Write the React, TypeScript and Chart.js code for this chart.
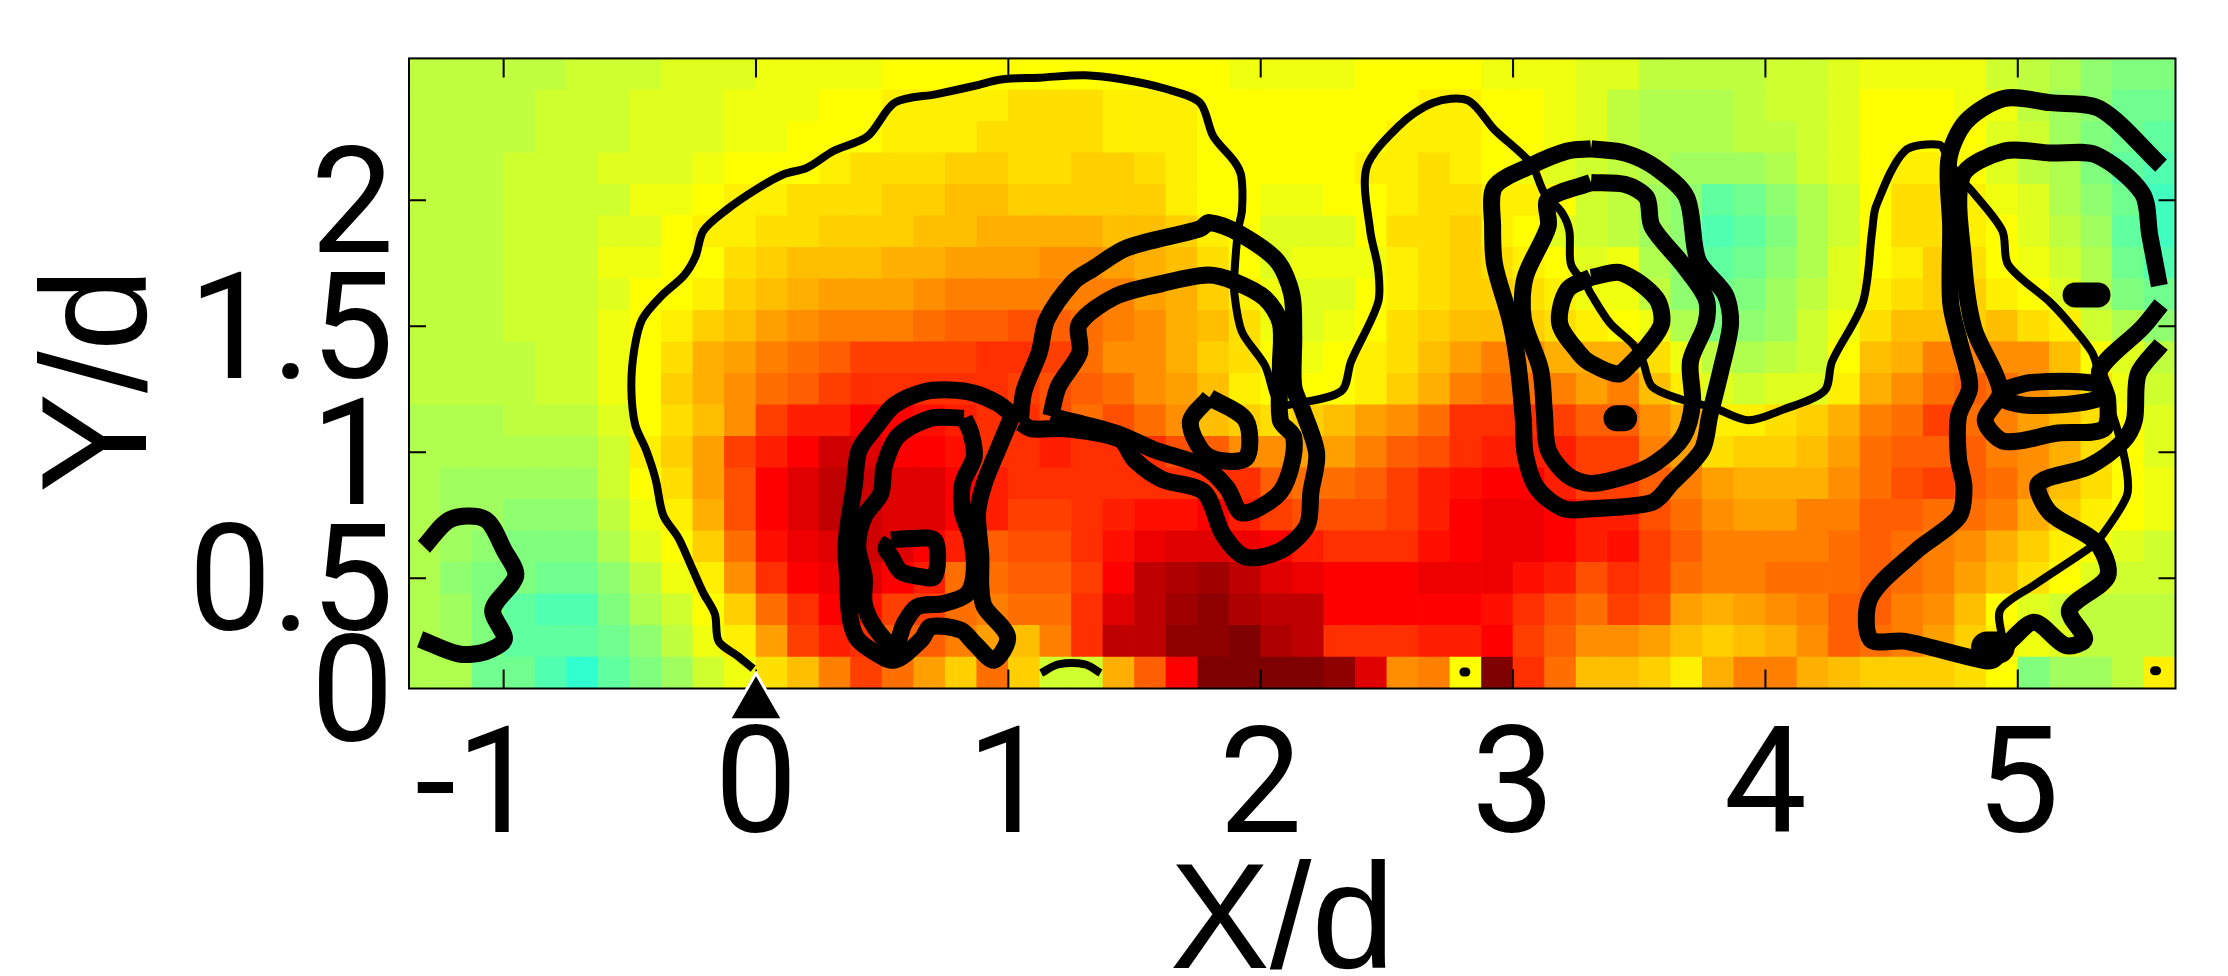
import React, { useEffect, useRef } from "react";
import { Chart, registerables } from "chart.js";

Chart.register(...registerables);

// Axis limits and ticks (in d units)
const xLimits = [-1.375, 5.625];
const yLimits = [0.0625, 2.5625];
const xTicks = [-1, 0, 1, 2, 3, 4, 5];
const xTickLabels = ["-1", "0", "1", "2", "3", "4", "5"];
const yTicks = [0.0625, 0.5, 1, 1.5, 2];
const yTickLabels = ["0", "0.5", "1", "1.5", "2"];
const xTitle = "X/d";
const yTitle = "Y/d";

// Cell grid
const cellSize = 0.125;
const firstCellX = -1.3125;
const topCellY = 2.5;

// Colour index read for each cell (top row first); 40 = yellow, 48 = orange, 56 = red, 64 = dark red
const cellValues: number[][] = [
  [36,36,36,36,36,37,37,37,38,38,38,39,39,39,39,40,40,40,40, 40,40,40,40,40,40,40,39,39,39,39,40,40,40,40,39,39,39,38, 38,36,36,36,36,37,37,38,39,39,39,39,37,36,35,33,32,32],
  [36,36,36,36,37,37,37,38,38,38,39,39,39,40,40,41,41,41,41, 42,42,42,41,41,41,40,40,40,40,40,40,40,41,41,40,40,39,38, 36,35,35,35,36,37,37,38,40,40,40,39,39,36,34,33,31,31],
  [36,36,36,36,37,37,37,38,38,38,39,39,40,40,40,41,41,41,42, 42,42,42,41,41,41,40,40,40,40,40,40,41,41,41,40,40,39,38, 36,35,35,35,36,36,37,38,40,40,40,40,38,37,34,32,31,30],
  [36,36,36,37,37,37,38,38,38,39,40,40,40,41,42,42,42,43,43, 42,42,43,43,42,41,40,40,40,40,40,41,41,42,41,40,39,38,37, 36,35,34,34,34,35,37,38,40,41,41,40,38,36,35,32,30,29],
  [36,36,36,37,37,37,37,39,39,40,41,41,42,42,42,43,43,44,44, 43,43,43,43,43,41,40,40,39,39,40,40,41,42,42,41,41,40,37, 36,34,33,30,31,33,35,37,40,42,42,41,39,38,35,33,31,28],
  [36,36,36,37,37,37,38,38,40,41,41,42,42,43,43,43,44,44,45, 45,45,45,44,44,43,41,40,38,38,38,40,42,42,43,41,40,38,37, 36,34,33,29,30,32,35,37,40,42,42,41,40,38,36,34,30,28],
  [36,36,36,37,37,37,39,39,40,40,42,43,44,44,44,45,45,46,46, 46,47,47,46,45,44,42,40,38,39,39,39,41,42,43,42,41,40,38, 39,35,33,30,31,33,35,38,40,41,43,42,40,39,37,35,31,29],
  [36,36,36,37,37,37,38,40,40,41,43,44,45,46,46,46,47,48,48, 48,48,48,48,46,45,43,41,39,38,38,40,41,42,43,43,42,41,39, 39,36,33,31,32,34,36,38,41,42,43,43,41,40,38,35,32,31],
  [36,36,36,37,37,37,39,40,41,43,44,46,47,48,48,48,49,50,50, 51,50,49,48,47,45,44,42,39,38,39,40,42,43,44,44,43,42,41, 40,39,35,32,33,34,37,39,42,44,44,43,44,42,41,37,35,33],
  [36,36,36,36,37,37,39,40,42,45,46,48,49,50,52,52,52,52,53, 53,52,49,47,47,45,43,42,40,39,40,41,42,44,46,48,47,45,45, 45,42,39,36,35,36,37,40,44,45,48,48,47,47,44,40,38,36],
  [36,36,36,36,37,37,39,40,43,45,47,49,50,52,53,53,53,53,53, 52,51,50,49,47,46,44,41,40,40,40,41,43,45,48,49,49,48,46, 48,44,41,38,37,38,38,41,45,47,49,50,49,47,45,42,39,37],
  [35,35,35,36,36,36,38,40,42,44,47,52,54,54,56,56,55,54,53, 53,51,49,51,49,47,44,43,42,43,44,46,47,49,53,53,53,52,50, 50,47,45,41,41,42,43,45,48,49,52,49,48,46,44,42,40,38],
  [35,35,35,35,35,35,37,41,43,46,52,54,56,59,58,56,56,55,53, 53,54,53,53,53,51,50,47,47,46,46,48,50,51,53,54,54,54,52, 52,48,46,42,43,43,44,46,49,50,50,50,48,47,45,42,40,38],
  [35,34,34,34,34,34,37,40,42,46,51,56,58,60,59,58,58,56,54, 53,53,53,53,53,53,53,53,50,49,49,50,52,54,55,56,56,54,52, 52,50,48,46,45,45,45,47,49,51,52,50,49,47,44,42,40,39],
  [35,34,34,33,33,33,36,39,41,45,51,56,58,60,59,58,58,56,54, 52,52,53,54,55,55,56,54,52,51,51,51,52,54,56,57,57,56,54, 54,51,49,47,46,46,48,48,50,50,49,49,48,45,43,41,40,39],
  [35,34,33,32,32,32,35,38,40,43,49,55,57,58,59,58,56,54,50, 51,51,53,55,57,58,58,57,56,54,53,53,53,55,56,57,57,56,54, 55,52,50,48,48,48,48,49,50,49,48,47,45,43,41,40,38,37],
  [35,33,32,32,31,31,33,36,39,41,47,53,56,57,58,56,54,49,49, 50,50,52,56,60,61,62,60,58,57,56,56,56,57,57,57,55,54,51, 53,52,49,48,48,49,49,49,50,49,48,46,44,42,40,38,37,37],
  [35,34,32,30,29,29,32,35,37,40,43,49,53,56,55,52,52,49,48, 49,49,53,58,60,62,63,61,60,60,56,56,56,56,56,55,53,51,49, 52,51,46,45,46,47,48,50,50,48,47,44,40,38,37,36,36,36],
  [35,34,32,30,30,30,31,33,36,39,41,46,52,54,53,50,50,48,46, 44,48,53,60,60,63,63,64,61,60,53,53,53,54,54,56,52,50,47, 47,46,44,43,44,45,47,50,49,48,46,43,41,39,38,36,36,36],
  [35,35,31,31,29,27,30,32,34,37,39,42,44,48,52,49,46,43,49, 43,37,37,45,50,56,64,64,64,64,63,58,47,48,40,64,53,49,44, 44,43,41,45,48,48,45,44,43,43,43,42,40,32,34,34,36,41],
];

type P = [number, number];

// Contour lines, in X/d, Y/d
const outerEnvelope: P[] = [[-0.011,0.141],[-0.072,0.191],[-0.148,0.25],[-0.163,0.358],[-0.209,0.442],[-0.254,0.542],[-0.307,0.659],[-0.368,0.751],[-0.398,0.893],[-0.436,1.01],[-0.479,1.11],[-0.494,1.26],[-0.482,1.41],[-0.451,1.527],[-0.376,1.619],[-0.284,1.703],[-0.239,1.778],[-0.209,1.878],[-0.118,1.961],[0.004,2.045],[0.11,2.103],[0.201,2.128],[0.307,2.195],[0.443,2.254],[0.55,2.387],[0.716,2.421],[0.868,2.454],[0.971,2.479],[1.122,2.486],[1.304,2.496],[1.456,2.479],[1.623,2.442],[1.759,2.387],[1.812,2.254],[1.896,2.153],[1.923,2.095],[1.926,1.961],[1.911,1.886],[1.896,1.711],[1.896,1.627],[1.926,1.477],[2.017,1.344],[2.07,1.193],[2.138,1.193],[2.32,1.243],[2.358,1.36],[2.465,1.594],[2.465,1.728],[2.434,1.878],[2.419,2.128],[2.548,2.295],[2.684,2.387],[2.821,2.396],[2.927,2.279],[3.071,2.145],[3.124,2.028],[3.192,1.953],[3.223,1.878],[3.23,1.744],[3.291,1.661],[3.309,1.627],[3.385,1.511],[3.476,1.427],[3.514,1.36],[3.551,1.26],[3.665,1.21],[3.794,1.177],[3.931,1.127],[4.067,1.168],[4.234,1.243],[4.264,1.36],[4.386,1.594],[4.423,1.878],[4.439,1.978],[4.552,2.195],[4.689,2.22],[4.719,2.178],[4.765,2.095],[4.825,2.028],[4.939,1.878],[4.962,1.744],[5.129,1.594],[5.205,1.511],[5.295,1.394],[5.326,1.294],[5.394,1.093],[5.432,0.926],[5.432,0.826],[5.326,0.659],[5.28,0.617],[5.068,0.475],[4.931,0.375],[4.939,0.258]];
const leftCurl: P[] = [[-1.316,0.625],[-1.21,0.734],[-1.073,0.734],[-0.997,0.609],[-0.952,0.509],[-1.043,0.375],[-0.997,0.258],[-1.073,0.208],[-1.179,0.2],[-1.331,0.258]];
const vortexOneOuter: P[] = [[1.017,1.148],[0.958,1.009],[0.905,0.877],[0.878,0.758],[0.891,0.586],[0.891,0.466],[0.905,0.387],[0.997,0.268],[0.944,0.175],[0.865,0.242],[0.812,0.294],[0.693,0.308],[0.654,0.255],[0.548,0.175],[0.456,0.215],[0.396,0.268],[0.37,0.361],[0.363,0.506],[0.356,0.625],[0.37,0.744],[0.389,0.863],[0.409,1.009],[0.475,1.101],[0.548,1.187],[0.667,1.24],[0.773,1.247],[0.865,1.234],[0.958,1.194],[1.017,1.148]];
const vortexOneInner: P[] = [[0.825,1.135],[0.693,1.135],[0.561,1.062],[0.508,0.943],[0.495,0.837],[0.429,0.744],[0.403,0.625],[0.429,0.506],[0.429,0.4],[0.469,0.308],[0.548,0.228],[0.588,0.321],[0.64,0.387],[0.746,0.4],[0.839,0.44],[0.865,0.533],[0.852,0.665],[0.819,0.758],[0.819,0.877],[0.865,0.982],[0.852,1.075],[0.825,1.135]];
const vortexOneCore: P[] = [[0.535,0.652],[0.614,0.658],[0.706,0.652],[0.72,0.586],[0.706,0.506],[0.654,0.506],[0.574,0.526],[0.535,0.586],[0.515,0.619],[0.535,0.652]];
const vortexTwoOuter: P[] = [[1.047,1.118],[1.062,1.243],[1.122,1.394],[1.153,1.527],[1.259,1.677],[1.335,1.728],[1.471,1.811],[1.759,1.886],[1.797,1.911],[1.911,1.87],[2.063,1.761],[2.123,1.627],[2.131,1.46],[2.131,1.26],[2.169,1.16],[2.222,0.993],[2.199,0.842],[2.184,0.709],[2.078,0.609],[1.941,0.584],[1.85,0.675],[1.775,0.842],[1.608,0.893],[1.502,0.968],[1.441,1.051],[1.229,1.093],[1.092,1.093],[1.047,1.118]];
const vortexTwoInner: P[] = [[1.168,1.143],[1.198,1.26],[1.282,1.394],[1.282,1.51],[1.426,1.619],[1.608,1.669],[1.79,1.703],[1.896,1.677],[2.017,1.611],[2.078,1.511],[2.078,1.344],[2.078,1.126],[2.131,1.06],[2.116,0.926],[2.063,0.826],[1.926,0.759],[1.866,0.859],[1.775,0.943],[1.577,1.01],[1.426,1.076],[1.168,1.143]];
const vortexTwoCore: P[] = [[1.797,1.218],[1.941,1.126],[1.941,0.976],[1.79,0.984],[1.721,1.118],[1.797,1.218]];
const wallArc: P[] = [[1.13,0.124],[1.198,0.158],[1.304,0.158],[1.365,0.124]];
const vortexThreeOuter: P[] = [[3.309,2.204],[3.215,2.195],[3.071,2.137],[2.927,2.053],[2.919,1.895],[2.927,1.744],[2.988,1.527],[3.018,1.36],[3.041,1.126],[3.048,0.993],[3.094,0.859],[3.2,0.776],[3.309,0.776],[3.551,0.801],[3.627,0.876],[3.749,1.01],[3.779,1.143],[3.824,1.327],[3.862,1.511],[3.84,1.627],[3.733,1.761],[3.688,2.011],[3.567,2.128],[3.445,2.187],[3.309,2.204]];
const vortexThreeInner: P[] = [[3.309,2.07],[3.139,2.003],[3.139,1.895],[3.048,1.694],[3.041,1.527],[3.109,1.327],[3.124,1.16],[3.139,1.01],[3.215,0.909],[3.309,0.876],[3.46,0.909],[3.567,0.959],[3.673,1.06],[3.711,1.193],[3.703,1.36],[3.764,1.511],[3.764,1.611],[3.673,1.744],[3.551,1.895],[3.529,2.011],[3.445,2.062],[3.309,2.07]];
const vortexThreeCore: P[] = [[3.309,1.694],[3.43,1.711],[3.567,1.611],[3.589,1.511],[3.536,1.427],[3.46,1.344],[3.415,1.31],[3.309,1.352],[3.261,1.394],[3.185,1.511],[3.215,1.644],[3.309,1.694]];
const rightOuter: P[] = [[5.568,1.427],[5.477,1.31],[5.462,1.126],[5.417,1.043],[5.28,0.943],[5.083,0.876],[5.129,0.759],[5.311,0.642],[5.356,0.508],[5.205,0.375],[5.265,0.258],[5.189,0.233],[5.068,0.325],[4.977,0.258],[4.901,0.175],[4.825,0.183],[4.552,0.25],[4.416,0.258],[4.416,0.425],[4.598,0.609],[4.765,0.742],[4.787,0.859],[4.765,0.976],[4.765,1.143],[4.81,1.26],[4.772,1.427],[4.734,1.594],[4.734,1.895],[4.727,2.162],[4.795,2.312],[4.947,2.404],[5.129,2.387],[5.326,2.362],[5.568,2.137]];
const rightInner: P[] = [[5.568,1.586],[5.493,1.494],[5.326,1.327],[5.356,1.21],[5.341,1.093],[5.159,1.076],[4.947,1.043],[4.871,1.126],[4.931,1.243],[4.825,1.494],[4.785,1.761],[4.78,2.095],[4.947,2.195],[5.129,2.187],[5.311,2.179],[5.493,2.028],[5.523,1.861],[5.561,1.661]];
const rightCore: P[] = [[4.931,1.243],[5.053,1.277],[5.326,1.268],[5.311,1.21],[5.053,1.185],[4.939,1.21],[4.931,1.243]];

// Tiny closed contours that print as blobs
const blobA: P[] = [[3.41,1.135],[3.44,1.135]];
const blobB: P[] = [[5.227,1.624],[5.318,1.624]];
const blobC: P[] = [[4.878,0.225],[4.924,0.225]];
const specks: P[][] = [[[2.805,0.128],[2.813,0.128]],[[5.542,0.133],[5.55,0.133]]];

const slotMarker: P = [0, 0];

const thinContours = [outerEnvelope, wallArc];
const thickContours = [leftCurl, vortexOneOuter, vortexOneInner, vortexOneCore, vortexTwoOuter, vortexTwoInner, vortexTwoCore, vortexThreeOuter, vortexThreeInner, vortexThreeCore, rightOuter, rightInner, rightCore];

function colourOf(v: number): string {
  let r = 0, g = 255, b = 0;
  if (v <= 40) {
    r = (v - 24) * 16;
    b = 255 - r;
  } else if (v <= 56) {
    r = 255;
    g = 255 - (v - 40) * 16;
  } else {
    r = 255 - (v - 56) * 16;
    g = 0;
  }
  return `rgb(${Math.max(0, Math.min(255, r))},${Math.max(0, g)},${Math.max(0, b)})`;
}

const NUMBER_FONT = '148px Roboto';
const TITLE_FONT = '150px "Liberation Sans"';

const frameAndTicks = {
  id: "frameAndTicks",
  afterDatasetDraw(chart: any, args: any) {
    if (args.index !== 0) return;
    const { ctx, chartArea: a, scales } = chart;
    ctx.save();
    ctx.strokeStyle = "#000";
    ctx.lineWidth = 2;
    ctx.strokeRect(a.left, a.top, a.right - a.left, a.bottom - a.top);
    ctx.beginPath();
    xTicks.forEach((t) => {
      const x = scales.x.getPixelForValue(t);
      ctx.moveTo(x, a.top);
      ctx.lineTo(x, a.top + 19);
      ctx.moveTo(x, a.bottom);
      ctx.lineTo(x, a.bottom - 19);
    });
    yTicks.slice(1).forEach((t) => {
      const y = scales.y.getPixelForValue(t);
      ctx.moveTo(a.left, y);
      ctx.lineTo(a.left + 17, y);
      ctx.moveTo(a.right, y);
      ctx.lineTo(a.right - 17, y);
    });
    ctx.stroke();
    ctx.restore();
  },
  afterDraw(chart: any) {
    const { ctx, chartArea: a, scales } = chart;
    ctx.save();
    ctx.fillStyle = "#000";
    ctx.font = NUMBER_FONT;
    ctx.textBaseline = "alphabetic";
    xTicks.forEach((t, i) => {
      const label = xTickLabels[i];
      const x = scales.x.getPixelForValue(t);
      if (label.startsWith("-")) {
        ctx.textAlign = "left";
        ctx.fillText(label, a.left + 6, a.bottom + 143);
      } else {
        ctx.textAlign = "center";
        ctx.fillText(label, x, a.bottom + 143);
      }
    });
    ctx.textAlign = "right";
    yTicks.forEach((t, i) => {
      ctx.fillText(yTickLabels[i], a.left - 15, scales.y.getPixelForValue(t) + 52);
    });
    ctx.font = TITLE_FONT;
    ctx.textAlign = "center";
    ctx.fillText(xTitle, (a.left + a.right) / 2 - 10, a.bottom + 279);
    ctx.translate(146, (a.top + a.bottom) / 2 + 7);
    ctx.rotate(-Math.PI / 2);
    ctx.fillText(yTitle, 0, 0);
    ctx.restore();
  },
};

const toPoints = (line: P[]) => line.map(([x, y]) => ({ x, y }));
const lineSet = (line: P[], width: number, cap: string = "butt") => ({
  type: "scatter",
  data: toPoints(line),
  showLine: true,
  tension: 0.3,
  borderColor: "#000",
  borderWidth: width,
  borderCapStyle: cap,
  borderJoinStyle: "round",
  pointRadius: 0,
  order: 2,
});

export default function App() {
  const ref = useRef<HTMLCanvasElement>(null);
  useEffect(() => {
    const cells: { x: number; y: number }[] = [];
    const colours: string[] = [];
    cellValues.forEach((row, r) =>
      row.forEach((v, c) => {
        cells.push({ x: firstCellX + c * cellSize, y: topCellY - r * cellSize });
        colours.push(colourOf(v));
      })
    );
    const chart = new Chart(ref.current as HTMLCanvasElement, {
      type: "scatter",
      data: {
        datasets: [
          {
            data: cells,
            pointStyle: "rect",
            pointRadius: 22.8,
            pointBorderWidth: 0,
            pointBackgroundColor: colours,
            order: 3,
          },
          ...thinContours.map((l) => lineSet(l, 8)),
          ...thickContours.map((l) => lineSet(l, 17)),
          lineSet(blobA, 26, "round"),
          lineSet(blobB, 25, "round"),
          lineSet(blobC, 32, "round"),
          ...specks.map((l) => lineSet(l, 9, "round")),
          {
            data: [{ x: slotMarker[0], y: slotMarker[1] }],
            pointStyle: "triangle",
            pointRadius: 31,
            pointBackgroundColor: "#000",
            pointBorderColor: "#fff",
            pointBorderWidth: 3,
            clip: false,
            order: 1,
          },
        ] as any,
      },
      options: {
        responsive: false,
        animation: false,
        devicePixelRatio: 1,
        layout: { padding: { left: 409, right: 52.5, top: 58.4, bottom: 287.5 } },
        plugins: { legend: { display: false }, tooltip: { enabled: false } },
        scales: {
          x: { type: "linear", display: false, min: xLimits[0], max: xLimits[1] },
          y: { type: "linear", display: false, min: yLimits[0], max: yLimits[1] },
        },
      } as any,
      plugins: [frameAndTicks],
    });
    return () => chart.destroy();
  }, []);
  return (
    <canvas
      ref={ref}
      width={2228}
      height={976}
      style={{ position: "absolute", left: 0, top: 0, width: 2228, height: 976 }}
    />
  );
}
